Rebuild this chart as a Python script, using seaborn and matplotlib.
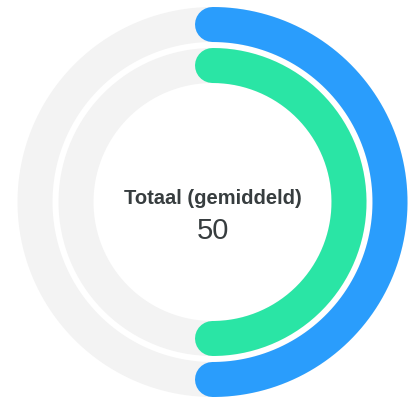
import numpy as np
import pandas as pd
import matplotlib
matplotlib.use("Agg")
import matplotlib.pyplot as plt
import seaborn as sb

# radial bar values (percent of full circle)
series_names = ["Serie 1", "Serie 2"]
series_values = [50, 50]
series_colors = ["#2A9DFC", "#2AE5A5"]
center_label = "Totaal (gemiddeld)"
center_value = "50"


def arc_frame(value, radius, cx, cy, n=200):
    # angle measured clockwise from 12 o'clock
    t = np.radians(np.linspace(0, 360 * value / 100, n))
    return pd.DataFrame({"x": cx + radius * np.sin(t), "y": cy - radius * np.cos(t)})


def draw_chart():
    sb.set_theme(style="white")
    plt.rcParams["font.family"] = ["Liberation Sans", "DejaVu Sans"]

    W, H = 408, 403
    fig = plt.figure(figsize=(W / 100, H / 100), dpi=100)
    ax = fig.add_axes([0, 0, 1, 1])
    ax.set_xlim(0, W)
    ax.set_ylim(H, 0)
    ax.axis("off")

    cx, cy = 212.5, 202
    radii = [177.5, 136.5]
    ring_width = 35 * 0.72  # px -> pt at 100 dpi

    for name, val, col, r in zip(series_names, series_values, series_colors, radii):
        track = arc_frame(100, r, cx, cy, n=400)
        ax.plot(track["x"], track["y"], color="#F3F3F3", lw=ring_width,
                solid_capstyle="butt", zorder=1)
        arc = arc_frame(val, r, cx, cy)
        sb.lineplot(data=arc, x="x", y="y", sort=False, estimator=None, ax=ax,
                    color=col, lw=ring_width, solid_capstyle="round", zorder=2)

    ax.text(cx, 199, center_label, ha="center", va="center", fontsize=14.5,
            fontweight="bold", color="#373D3F")
    ax.text(cx, 231, center_value, ha="center", va="center", fontsize=21,
            color="#373D3F")

    fig.savefig("out.png", dpi=100)
    plt.close(fig)


if __name__ == "__main__":
    draw_chart()
